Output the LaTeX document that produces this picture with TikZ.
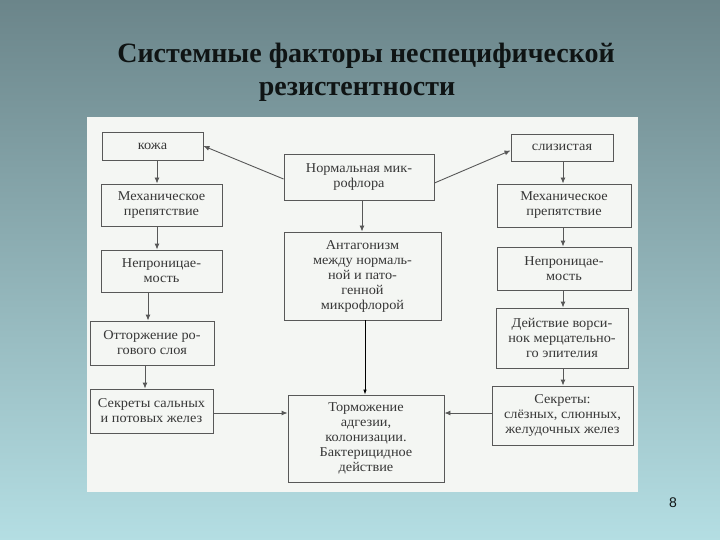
\documentclass[tikz,border=0pt]{standalone}
\usepackage{fontspec}
\setmainfont{Liberation Serif}
\newfontfamily\numfont{Liberation Sans}
\newfontfamily\boxfont[FakeStretch=1.06]{Liberation Serif}
\usetikzlibrary{arrows.meta}
\definecolor{bgtop}{RGB}{107,133,138}
\definecolor{bgbot}{RGB}{180,222,227}
\definecolor{panel}{RGB}{244,246,243}
\definecolor{boxline}{RGB}{88,88,88}
\definecolor{txt}{RGB}{55,55,55}
\definecolor{ttl}{RGB}{15,20,20}
\begin{document}
\begin{tikzpicture}[x=1pt,y=-1pt,
  box/.style={draw=boxline, line width=0.9pt, fill=panel, text=txt,
    font=\boxfont\fontsize{13.5}{15}\selectfont, align=center, inner sep=0pt},
  arr/.style={draw=boxline, line width=0.9pt, -{Latex[length=6pt,width=5pt]}},
  blackarr/.style={draw=black, line width=0.7pt, -{Latex[length=5pt,width=3.5pt]}},
  ttlstyle/.style={text=ttl, font=\fontsize{28}{32}\bfseries, inner sep=0pt, anchor=base}]
\useasboundingbox (0,0) rectangle (720,540);
\shade[top color=bgtop, bottom color=bgbot] (0,0) rectangle (720,540);
\node[ttlstyle] (t1) at (366,63) {Системные факторы неспецифической};
\node[ttlstyle] (t2) at (357,96) {резистентности};
\fill[panel] (87,117) rectangle (638,492);
% left column
\node[box, minimum width=101, minimum height=28] (kozha) at (152.5,146) {кожа};
\node[box, minimum width=121, minimum height=42] (mechL) at (161.5,205) {Механическое\\препятствие};
\node[box, minimum width=121, minimum height=42] (nepL) at (161.5,271) {Непроницае-\\мость};
\node[box, minimum width=124, minimum height=44] (ott) at (152,343) {Отторжение ро-\\гового слоя};
\node[box, minimum width=123, minimum height=44] (sekL) at (151.5,411) {Секреты сальных\\и потовых желез};
% centre column
\node[box, minimum width=150, minimum height=46] (norm) at (359,177) {Нормальная мик-\\рофлора};
\node[box, minimum width=157, minimum height=88] (antag) at (362.5,276) {Антагонизм\\между нормаль-\\ной и пато-\\генной\\микрофлорой};
\node[box, minimum width=156, minimum height=87] (torm) at (366,438.5) {Торможение\\адгезии,\\колонизации.\\Бактерицидное\\действие};
% right column
\node[box, minimum width=102, minimum height=27] (sliz) at (562,147.5) {слизистая};
\node[box, minimum width=134, minimum height=43] (mechR) at (564,205.5) {Механическое\\препятствие};
\node[box, minimum width=134, minimum height=43] (nepR) at (564,268.5) {Непроницае-\\мость};
\node[box, minimum width=132, minimum height=60] (deyst) at (562,338) {Действие ворси-\\нок мерцательно-\\го эпителия};
\node[box, minimum width=141, minimum height=59] (sekR) at (562.5,415.5) {Секреты:\\слёзных, слюнных,\\желудочных желез};
% connectors
\draw[arr] ([yshift=-2pt]norm.west) -- (kozha.east);
\draw[arr] ([yshift=-6pt]norm.east) -- ([yshift=-3pt]sliz.west);
\draw[arr] (kozha.south -| 157,0) -- (mechL.north -| 157,0);
\draw[arr] (mechL.south -| 157,0) -- (nepL.north -| 157,0);
\draw[arr] (nepL.south -| 148,0) -- (ott.north -| 148,0);
\draw[arr] (ott.south -| 145,0) -- (sekL.north -| 145,0);
\draw[arr] (sekL.east |- 0,413) -- (torm.west |- 0,413);
\draw[arr] (norm.south -| 362,0) -- (antag.north -| 362,0);
\draw[blackarr] (antag.south -| 365,0) -- (torm.north -| 365,0);
\draw[arr] (sliz.south -| 563,0) -- (mechR.north -| 563,0);
\draw[arr] (mechR.south -| 563,0) -- (nepR.north -| 563,0);
\draw[arr] (nepR.south -| 563,0) -- (deyst.north -| 563,0);
\draw[arr] (deyst.south -| 563,0) -- (sekR.north -| 563,0);
\draw[arr] (sekR.west |- 0,413) -- (torm.east |- 0,413);
\node[text=ttl, font=\numfont\fontsize{14}{16}\selectfont, inner sep=0pt] (pg) at (673,503) {8};
\end{tikzpicture}
\end{document}
